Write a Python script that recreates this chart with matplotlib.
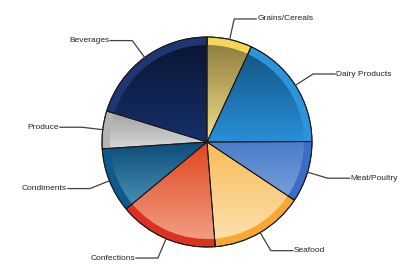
import numpy as np
import matplotlib
matplotlib.use("Agg")
import matplotlib.pyplot as plt
from matplotlib.patches import Wedge
from matplotlib.colors import to_rgb

categories = ["Grains/Cereals", "Dairy Products", "Meat/Poultry", "Seafood",
              "Confections", "Condiments", "Produce", "Beverages"]
sales = [25, 65, 34, 52, 55, 36, 21, 73]

rim_colors = ["#f5d65a", "#2c94dc", "#3a6ec4", "#f8a832",
              "#dc3020", "#0e5a8c", "#b4b4b4", "#1e3672"]
top_colors = ["#8a783a", "#14527f", "#4a7cc8", "#f8bc58",
              "#e0461e", "#0e4c78", "#a0a0a0", "#0a1430"]
bottom_colors = ["#f2e08a", "#2890d8", "#7aa0dc", "#fde2b4",
                 "#f2a48a", "#4a94b8", "#d8d8d8", "#16306a"]

plt.rcParams['font.family'] = ['Liberation Sans', 'DejaVu Sans']

fig = plt.figure(figsize=(4.08, 2.64), dpi=100)
ax = fig.add_axes([0, 0, 1, 1])

cx, cy, R = 207, 142, 105
rim = 8

# y axis is flipped below, so counterclock in data = clockwise on screen
wedges, _ = ax.pie(sales, center=(cx, cy), radius=R, startangle=-90,
                   counterclock=True, colors=rim_colors,
                   wedgeprops=dict(edgecolor="#1a1a1a", linewidth=0.7))

for w, c_top, c_bot in zip(wedges, top_colors, bottom_colors):
    t1, t2 = w.theta1, w.theta2
    inner = Wedge((cx, cy), R - rim, t1, t2, facecolor="none",
                  edgecolor="none", transform=ax.transData)
    ax.add_patch(inner)
    tt = np.radians(np.linspace(t1, t2, 60))
    xs = np.concatenate([[cx], cx + R * np.cos(tt)])
    ys = np.concatenate([[cy], cy + R * np.sin(tt)])
    a = np.array(to_rgb(c_top))
    b = np.array(to_rgb(c_bot))
    f = np.linspace(0, 1, 64)[:, None]
    grad = (a * (1 - f) + b * f)[:, None, :].repeat(2, axis=1)
    im = ax.imshow(grad, extent=(xs.min(), xs.max(), ys.max(), ys.min()),
                   origin="upper", interpolation="bilinear", zorder=w.get_zorder() + 0.1)
    im.set_clip_path(inner)
    edge = Wedge((cx, cy), R, t1, t2, facecolor="none", edgecolor="#1a1a1a",
                 linewidth=0.7, zorder=w.get_zorder() + 0.2)
    ax.add_patch(edge)

# leader lines and labels
for w, name in zip(wedges, categories):
    mid = np.radians((w.theta1 + w.theta2) / 2)
    dx, dy = np.cos(mid), np.sin(mid)
    p0 = (cx + R * dx, cy + R * dy)
    p1 = (cx + 1.2 * R * dx, cy + 1.2 * R * dy)
    side = 1 if dx >= 0 else -1
    p2 = (p1[0] + side * 22, p1[1])
    ax.plot([p0[0], p1[0], p2[0]], [p0[1], p1[1], p2[1]],
            color="#404040", linewidth=0.9, zorder=5)
    ax.text(p2[0] + side * 1, p2[1], name, fontsize=6, color="#222222",
            ha="left" if side > 0 else "right", va="center")

ax.set_xlim(0, 408)
ax.set_ylim(264, 0)
ax.set_aspect("equal")
ax.axis("off")

fig.savefig("out.png", dpi=100)
